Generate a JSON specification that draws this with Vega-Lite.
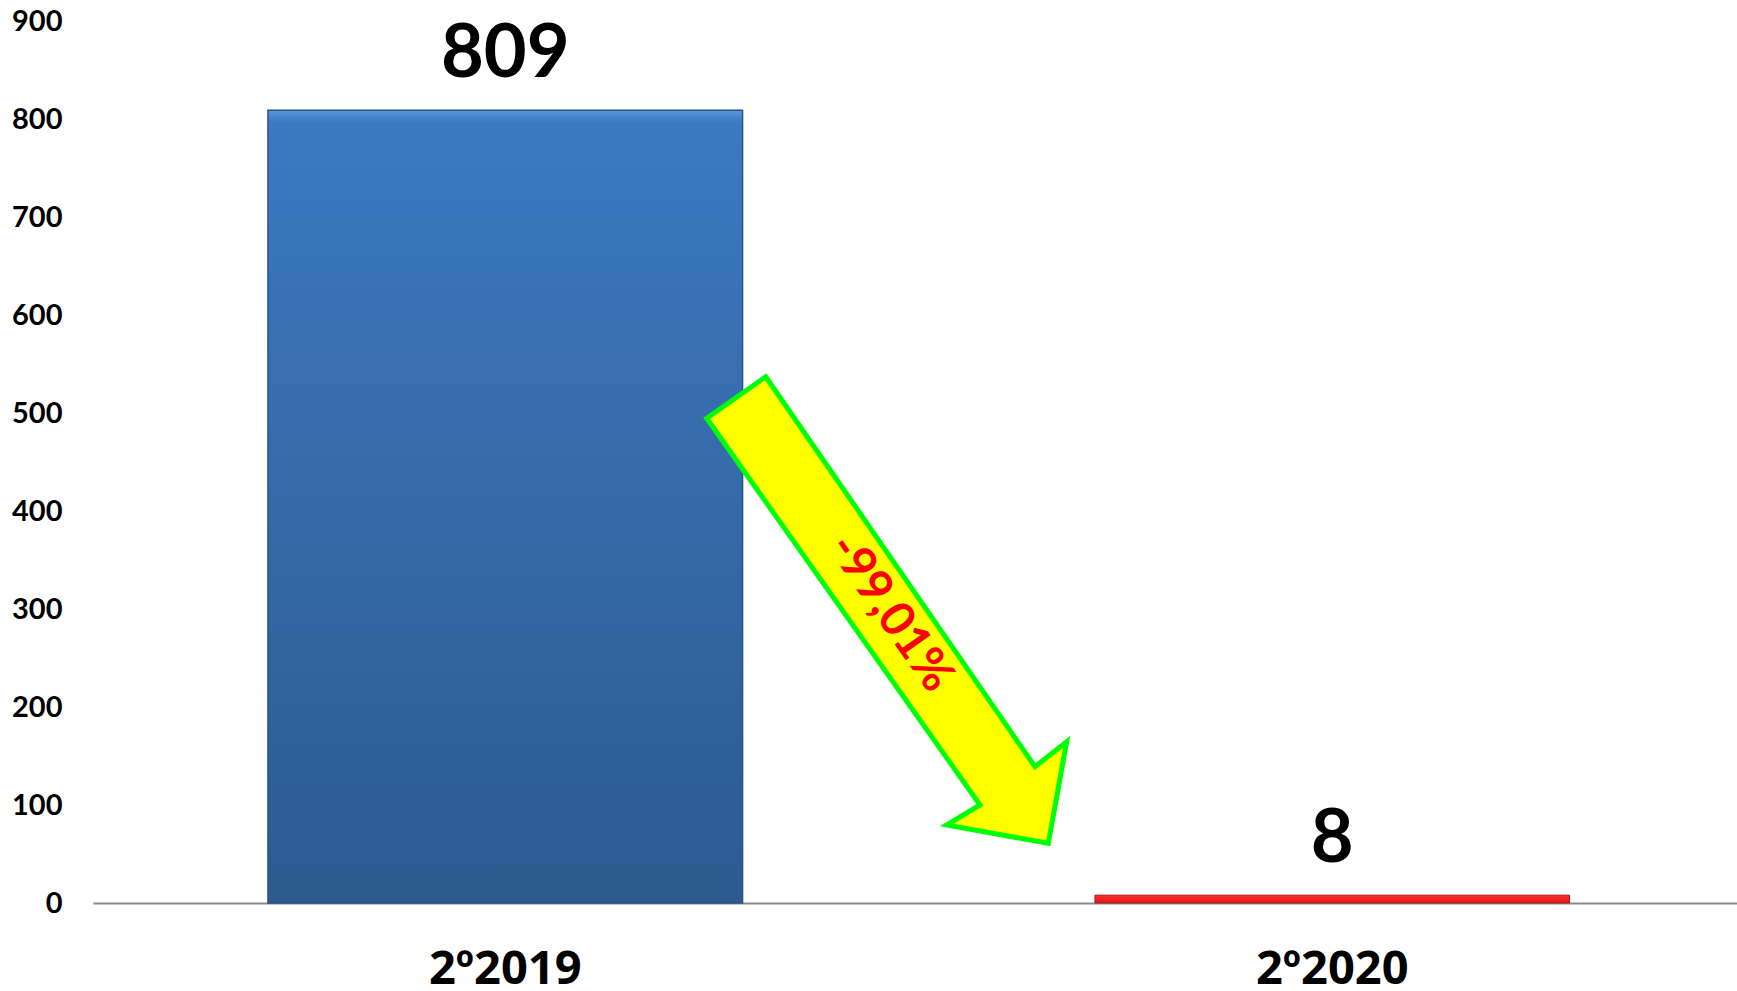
{
  "$schema": "https://vega.github.io/schema/vega-lite/v6.json",
  "autosize": "none",
  "width": 1644,
  "height": 882,
  "padding": {"left": 93, "top": 21, "right": 0, "bottom": 88},
  "background": "white",
  "config": {"view": {"stroke": null}, "font": "Lato"},
  "datasets": {
    "bars": [
      {"period": "2º2019", "value": 809},
      {"period": "2º2020", "value": 8}
    ],
    "arrow": [
      {"i": 1, "ax": 0.8184, "ay": 537.0},
      {"i": 2, "ax": 1.1460, "ay": 139.1},
      {"i": 3, "ax": 1.1845, "ay": 164.6},
      {"i": 4, "ax": 1.1622, "ay": 60.9},
      {"i": 5, "ax": 1.0386, "ay": 79.6},
      {"i": 6, "ax": 1.0791, "ay": 100.0},
      {"i": 7, "ax": 0.7466, "ay": 494.6}
    ],
    "arrowLabel": [
      {"ax": 0.9696, "ay": 295.6, "label": "-99,01%"}
    ]
  },
  "layer": [
    {
      "data": {"name": "bars"},
      "encoding": {
        "x": {
          "field": "period",
          "type": "nominal",
          "sort": null,
          "title": null,
          "scale": {"paddingInner": 0.4261, "paddingOuter": 0.207, "align": 0.511},
          "axis": {
            "labelAngle": 0,
            "labelFont": "Open Sans",
            "labelFontSize": 47,
            "labelFontWeight": "bold",
            "labelColor": "black",
            "labelPadding": 43,
            "ticks": false,
            "domain": true,
            "domainColor": "#898989",
            "domainWidth": 2,
            "grid": false
          }
        },
        "y": {
          "field": "value",
          "type": "quantitative",
          "title": null,
          "scale": {"domain": [0, 900], "nice": false},
          "axis": {
            "values": [0, 100, 200, 300, 400, 500, 600, 700, 800, 900],
            "domain": false,
            "ticks": false,
            "grid": false,
            "labelFont": "Lato",
            "labelFontSize": 29,
            "labelFontWeight": "bold",
            "labelColor": "black",
            "labelPadding": 31
          }
        }
      },
      "layer": [
        {
          "transform": [{"filter": "datum.period === '2º2019'"}],
          "mark": {
            "type": "bar",
            "color": {
              "gradient": "linear",
              "x1": 0, "y1": 0, "x2": 0, "y2": 1,
              "stops": [
                {"offset": 0, "color": "#5A96DA"},
                {"offset": 0.015, "color": "#3C79C1"},
                {"offset": 1, "color": "#2D5A8F"}
              ]
            },
            "stroke": "#2A5388",
            "strokeWidth": 1.5
          }
        },
        {
          "transform": [{"filter": "datum.period === '2º2020'"}],
          "mark": {
            "type": "bar",
            "color": {
              "gradient": "linear",
              "x1": 0, "y1": 0, "x2": 0, "y2": 1,
              "stops": [
                {"offset": 0, "color": "#FF3030"},
                {"offset": 1, "color": "#E01818"}
              ]
            },
            "stroke": "#A81414",
            "strokeWidth": 1
          }
        },
        {
          "mark": {
            "type": "text",
            "font": "Lato",
            "fontSize": 74,
            "fontWeight": "bold",
            "baseline": "alphabetic",
            "align": "center",
            "dy": -33,
            "color": "black"
          },
          "encoding": {"text": {"field": "value", "type": "quantitative"}}
        }
      ]
    },
    {
      "data": {"name": "arrow"},
      "mark": {
        "type": "line",
        "interpolate": "linear-closed",
        "fill": "#FFFF00",
        "stroke": "#00FF00",
        "strokeWidth": 5,
        "strokeJoin": "miter"
      },
      "encoding": {
        "x": {"field": "ax", "type": "quantitative", "scale": {"domain": [0, 2], "nice": false, "zero": false}, "axis": null},
        "y": {"field": "ay", "type": "quantitative", "title": null, "scale": {"domain": [0, 900], "nice": false}},
        "order": {"field": "i", "type": "quantitative"}
      }
    },
    {
      "data": {"name": "arrowLabel"},
      "mark": {
        "type": "text",
        "font": "Lato",
        "fontSize": 48,
        "fontWeight": "bold",
        "color": "#FF0000",
        "angle": 55,
        "align": "center",
        "baseline": "middle"
      },
      "encoding": {
        "x": {"field": "ax", "type": "quantitative", "scale": {"domain": [0, 2], "nice": false, "zero": false}, "axis": null},
        "y": {"field": "ay", "type": "quantitative", "title": null, "scale": {"domain": [0, 900], "nice": false}},
        "text": {"field": "label", "type": "nominal"}
      }
    }
  ],
  "resolve": {"scale": {"x": "independent"}, "axis": {"x": "independent"}}
}
